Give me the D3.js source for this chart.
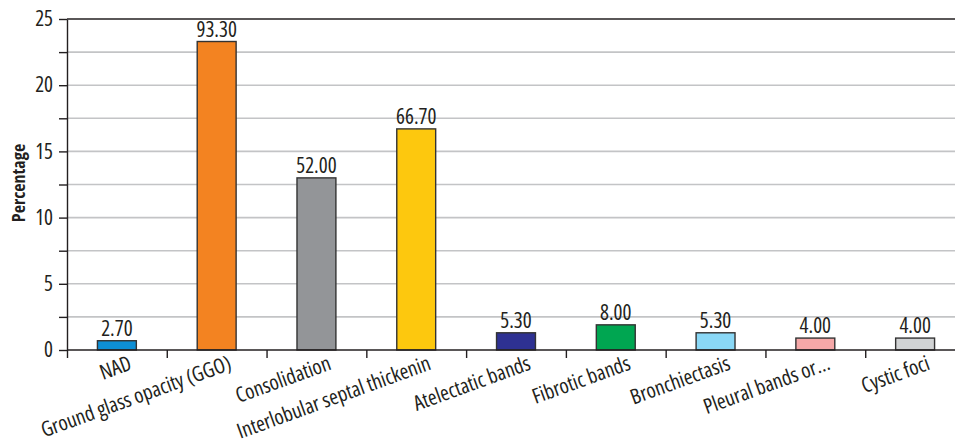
<!DOCTYPE html>
<html>
<head>
<meta charset="utf-8">
<script src="https://cdn.jsdelivr.net/npm/d3@7"></script>
<style>
  html, body { margin: 0; padding: 0; background: #fff; }
  svg { display: block; }
  text { font-family: "Open Sans", sans-serif; font-stretch: condensed; fill: #231f20; }
</style>
</head>
<body>
<div id="chart"></div>
<script>
// ---- Data ----
const categories = [
  "NAD",
  "Ground glass opacity (GGO)",
  "Consolidation",
  "Interlobular septal thickenin",
  "Atelectatic bands",
  "Fibrotic bands",
  "Bronchiectasis",
  "Pleural bands or\u2026",
  "Cystic foci"
];
const values = [0.7, 23.3, 13.0, 16.7, 1.3, 1.9, 1.3, 0.9, 0.9];
const valueLabels = ["2.70", "93.30", "52.00", "66.70", "5.30", "8.00", "5.30", "4.00", "4.00"];
const colors = ["#0d8fd6", "#f38321", "#939598", "#fdc80e", "#2e3192", "#00a651", "#8ad8f6", "#f5a8a8", "#d1d3d4"];
const yTicks = [0, 2.5, 5, 7.5, 10, 12.5, 15, 17.5, 20, 22.5, 25];
const yLabelTicks = [0, 5, 10, 15, 20, 25];
const yTitle = "Percentage";

// ---- Layout ----
const W = 955, H = 443;
const mLeft = 67, mRight = 965, mTop = 19, mBottom = 350;
const fs = 21;

const svg = d3.select("#chart").append("svg").attr("width", W).attr("height", H);

const x = d3.scaleBand().domain(categories).range([mLeft, mRight])
  .paddingInner(0.61).paddingOuter(0.305);
const y = d3.scaleLinear().domain([0, 25]).range([mBottom, mTop]);
const xb = d3.scaleLinear().domain([0, categories.length]).range([mLeft, mRight]);

// gridlines
svg.append("g").selectAll("line")
  .data(yTicks.filter(t => t > 0 && t < 25))
  .join("line")
  .attr("x1", mLeft).attr("x2", W)
  .attr("y1", d => y(d)).attr("y2", d => y(d))
  .attr("stroke", "#c3c4c6").attr("stroke-width", 1.6);

// top border line
svg.append("line")
  .attr("x1", mLeft).attr("x2", W)
  .attr("y1", y(25)).attr("y2", y(25))
  .attr("stroke", "#231f20").attr("stroke-width", 1.4);

// bars
svg.append("g").selectAll("rect")
  .data(categories)
  .join("rect")
  .attr("x", d => x(d))
  .attr("width", x.bandwidth())
  .attr("y", (d, i) => y(values[i]))
  .attr("height", (d, i) => y(0) - y(values[i]))
  .attr("fill", (d, i) => colors[i])
  .attr("stroke", "#333")
  .attr("stroke-width", 1.4);

// value labels
svg.append("g").selectAll("text")
  .data(categories)
  .join("text")
  .attr("x", d => x(d) + x.bandwidth() / 2)
  .attr("y", (d, i) => y(values[i]) - 5)
  .attr("text-anchor", "middle")
  .attr("font-size", fs)
  .text((d, i) => valueLabels[i]);

// y axis
const yAxis = svg.append("g")
  .attr("transform", `translate(${mLeft},0)`)
  .call(d3.axisLeft(y).tickValues(yTicks)
    .tickFormat(d => yLabelTicks.includes(d) ? d : "")
    .tickSize(8).tickPadding(6).tickSizeOuter(0));
yAxis.select(".domain").attr("stroke", "#231f20").attr("stroke-width", 1.4);
yAxis.selectAll(".tick line").attr("stroke", "#231f20").attr("stroke-width", 1.4);
yAxis.selectAll(".tick text").attr("font-size", fs).attr("font-family", null).attr("fill", "#231f20");

// x axis baseline + boundary ticks
const xAxis = svg.append("g")
  .attr("transform", `translate(0,${mBottom})`)
  .call(d3.axisBottom(xb).tickValues(d3.range(categories.length + 1))
    .tickFormat("").tickSize(8).tickSizeOuter(0));
xAxis.select(".domain").remove();
xAxis.selectAll(".tick line").attr("stroke", "#231f20").attr("stroke-width", 1.4);
svg.append("line")
  .attr("x1", mLeft).attr("x2", W)
  .attr("y1", mBottom).attr("y2", mBottom)
  .attr("stroke", "#231f20").attr("stroke-width", 1.6);

// category labels
svg.append("g").selectAll("text")
  .data(categories)
  .join("text")
  .attr("transform", d => `translate(${x(d) + x.bandwidth() / 2 + 16},${mBottom + 19}) rotate(-20)`)
  .attr("text-anchor", "end")
  .attr("font-size", fs)
  .text(d => d);

// y title
svg.append("text")
  .attr("transform", `translate(25,183) rotate(-90)`)
  .attr("text-anchor", "middle")
  .attr("font-size", 18)
  .attr("font-weight", "bold")
  .text(yTitle);
</script>
</body>
</html>
